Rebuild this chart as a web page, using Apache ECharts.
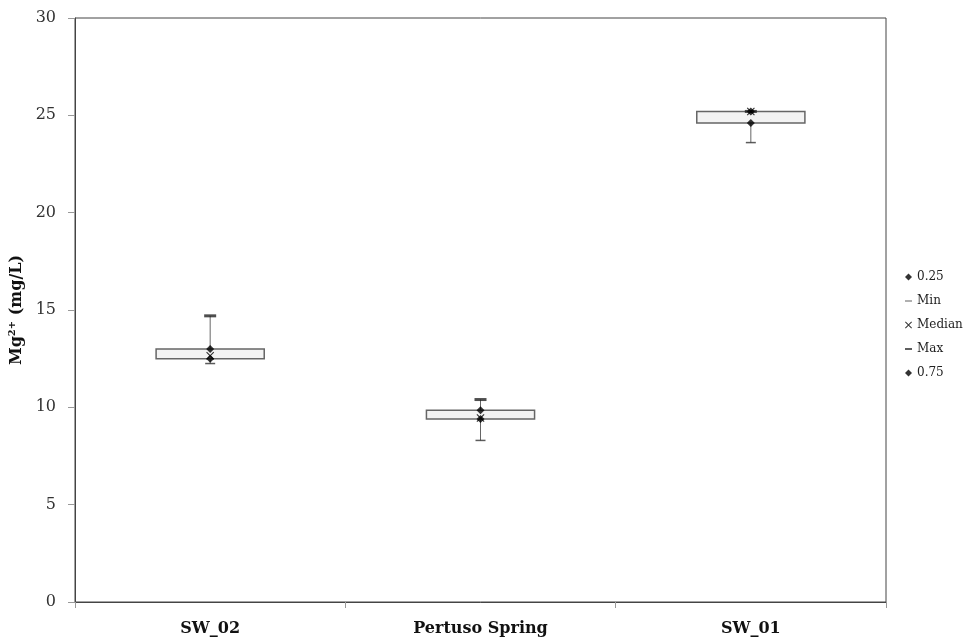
<!DOCTYPE html>
<html><head><meta charset="utf-8">
<script src="https://cdn.jsdelivr.net/npm/echarts@6/dist/echarts.min.js"></script>
<style>html,body{margin:0;padding:0;background:#fff}#c{width:966px;height:644px}</style>
</head><body><div id="c"></div>
<script>
var categories = ['SW_02', 'Pertuso Spring', 'SW_01'];
var q1Values = [12.5, 9.4, 24.6];
var minValues = [12.25, 8.3, 23.6];
var medianValues = [12.65, 9.45, 25.2];
var maxValues = [14.7, 10.4, 25.2];
var q3Values = [13.0, 9.85, 25.2];
var yTicks = [0, 5, 10, 15, 20, 25, 30];

var serif = '"DejaVu Serif", "Liberation Serif", serif';
var xPath = 'path://M1,0L5,4L9,0L10,1L6,5L10,9L9,10L5,6L1,10L0,9L4,5L0,1Z';
var minPath = 'path://M0,0L10,0L10,1.4L0,1.4Z';
var maxPath = 'path://M0,0L10,0L10,2.6L0,2.6Z';

var chart = echarts.init(document.getElementById('c'));
chart.setOption({
  animation: false,
  backgroundColor: '#fff',
  grid: { left: 75, right: 80, top: 18, bottom: 42, show: true, borderColor: '#444', borderWidth: 1, outerBoundsMode: 'none', containLabel: false },
  xAxis: {
    type: 'category', data: categories, boundaryGap: true,
    axisLine: { lineStyle: { color: '#444', width: 1 } },
    axisTick: { show: true, length: 6, lineStyle: { color: '#999' } },
    axisLabel: { margin: 19, fontFamily: serif, fontWeight: 'bold', fontSize: 16, color: '#111' }
  },
  yAxis: {
    type: 'value', min: yTicks[0], max: yTicks[yTicks.length - 1], interval: 5,
    splitLine: { show: false },
    axisLine: { show: true, lineStyle: { color: '#444' } },
    axisTick: { show: true, length: 7, lineStyle: { color: '#999' } },
    axisLabel: { margin: 19, fontFamily: serif, fontSize: 16, color: '#333' },
    name: '{a|Mg}{s|2+}{a| (mg/L)}', nameLocation: 'middle', nameRotate: 90, nameGap: 46,
    nameTextStyle: {
      rich: {
        a: { fontFamily: serif, fontWeight: 'bold', fontSize: 16, color: '#111' },
        s: { fontFamily: serif, fontWeight: 'bold', fontSize: 10, color: '#111', verticalAlign: 'top', padding: [0, 0, 8, 0] }
      }
    }
  },
  legend: {
    orient: 'vertical', left: 900, top: 266, itemGap: 12, itemWidth: 7, itemHeight: 7,
    textStyle: { fontFamily: serif, fontSize: 12, color: '#222' },
    data: [
      { name: '0.25', icon: 'diamond' },
      { name: 'Min', icon: minPath },
      { name: 'Median', icon: xPath },
      { name: 'Max', icon: maxPath },
      { name: '0.75', icon: 'diamond' }
    ]
  },
  series: [
    {
      type: 'custom', name: 'whisker', z: 1,
      data: categories.map(function (c, i) { return [i, minValues[i], maxValues[i]]; }),
      renderItem: function (params, api) {
        var a = api.coord([api.value(0), api.value(1)]);
        var b = api.coord([api.value(0), api.value(2)]);
        return { type: 'line', shape: { x1: a[0], y1: a[1], x2: b[0], y2: b[1] }, style: { stroke: '#666', lineWidth: 1 } };
      }
    },
    {
      type: 'custom', name: 'box', z: 2,
      data: categories.map(function (c, i) { return [i, q1Values[i], q3Values[i]]; }),
      renderItem: function (params, api) {
        var a = api.coord([api.value(0), api.value(1)]);
        var b = api.coord([api.value(0), api.value(2)]);
        var w = api.size([1, 0])[0] * 0.4;
        return { type: 'rect', shape: { x: a[0] - w / 2, y: b[1], width: w, height: a[1] - b[1] },
          style: { fill: '#f3f3f3', stroke: '#666', lineWidth: 1.5 } };
      }
    },
    { type: 'scatter', name: '0.25', z: 5, data: q1Values, symbol: 'diamond', symbolSize: 8, itemStyle: { color: '#000' } },
    { type: 'scatter', name: 'Min', z: 5, data: minValues, symbol: 'rect', symbolSize: [10, 1.5], itemStyle: { color: '#333' } },
    { type: 'scatter', name: 'Median', z: 6, data: medianValues, symbol: xPath, symbolSize: 8, itemStyle: { color: '#000' } },
    { type: 'scatter', name: 'Max', z: 5, data: maxValues, symbol: 'rect', symbolSize: [12, 3], itemStyle: { color: '#222' } },
    { type: 'scatter', name: '0.75', z: 5, data: q3Values, symbol: 'diamond', symbolSize: 8, itemStyle: { color: '#000' } }
  ]
});
</script></body></html>
